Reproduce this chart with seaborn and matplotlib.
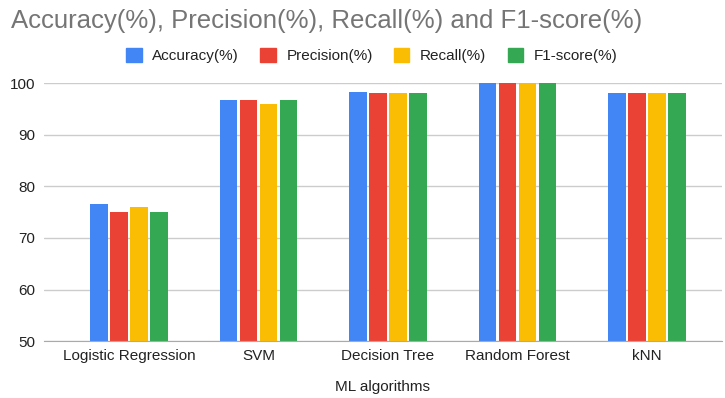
import numpy as np
import pandas as pd
import matplotlib
matplotlib.use("Agg")
import matplotlib.pyplot as plt
import seaborn as sns

algorithms = ["Logistic Regression", "SVM", "Decision Tree", "Random Forest", "kNN"]
metrics = ["Accuracy(%)", "Precision(%)", "Recall(%)", "F1-score(%)"]
accuracy = [76.5, 96.8, 98.2, 100, 98]
precision = [75, 96.8, 98, 100, 98]
recall = [76, 96, 98, 100, 98]
f1_score = [75, 96.8, 98, 100, 98]
colors = ["#4285F4", "#EA4335", "#FBBC04", "#34A853"]

df = pd.DataFrame({
    "algorithm": algorithms * 4,
    "metric": np.repeat(metrics, len(algorithms)),
    "value": accuracy + precision + recall + f1_score,
})

sns.set_style("white")
plt.rcParams["font.family"] = ["Liberation Sans", "DejaVu Sans"]

fig = plt.figure(figsize=(7.25, 3.98), dpi=100)
ax = fig.add_axes([0.06, 0.143, 0.936, 0.648])

sns.barplot(data=df, x="algorithm", y="value", hue="metric",
            palette=colors, saturation=1, width=0.62, gap=0.13, ax=ax,
            legend=False, linewidth=0)

ax.set_ylim(50, 100)
ax.set_xlim(-0.66, 4.58)
ax.set_yticks([50, 60, 70, 80, 90, 100])
ax.yaxis.grid(True, color="#cccccc", linewidth=1)
ax.set_axisbelow(True)
for s in ["top", "right", "left"]:
    ax.spines[s].set_visible(False)
ax.spines["bottom"].set_color("#aaaaaa")
ax.tick_params(axis="both", length=0, labelsize=11, colors="#222222")
ax.tick_params(axis="y", pad=6)
ax.tick_params(axis="x", pad=6)
ax.set_ylabel("")
ax.set_xlabel("ML algorithms", fontsize=11, color="#222222", labelpad=12)

fig.text(0.015, 0.93, "Accuracy(%), Precision(%), Recall(%) and F1-score(%)",
         fontsize=18.5, color="#757575", va="baseline", ha="left")

handles = [plt.Rectangle((0, 0), 1, 1, color=c) for c in colors]
fig.legend(handles, metrics, loc="center", bbox_to_anchor=(0.513, 0.86),
           ncol=4, frameon=False, fontsize=11, handlelength=1.0,
           handleheight=1.0, handletextpad=0.7, columnspacing=1.4,
           labelcolor="#222222")

fig.savefig("out.png", dpi=100)
